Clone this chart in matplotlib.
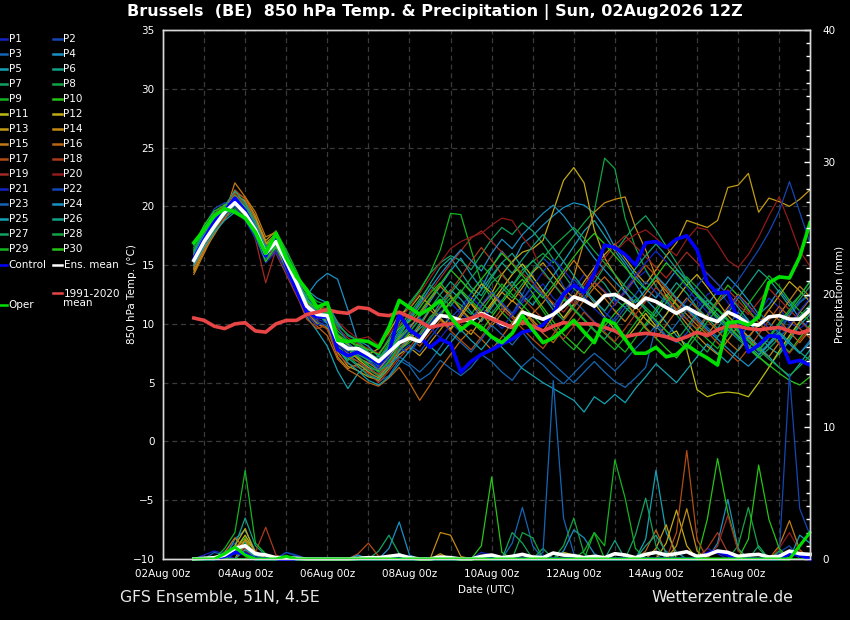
import numpy as np
import pandas as pd
import matplotlib
matplotlib.use("Agg")
import matplotlib.pyplot as plt
import matplotlib.dates as mdates
from matplotlib.lines import Line2D
from matplotlib.ticker import MultipleLocator
from datetime import datetime

W, H = 850, 620

# 6-hourly steps from 02Aug 18Z to 17Aug 18Z (61 values)
TIMES = pd.date_range("2026-08-02 18:00", periods=61, freq="6h").to_numpy()

# ---- 850 hPa temperature (°C) ----
ENS_MEAN_T = [15.4, 17.0, 18.3, 19.5, 20.3, 19.4, 18.0, 16.0, 17.0, 15.3,
              13.5, 11.5, 10.8, 10.7, 8.5, 7.9, 7.9, 7.4, 6.8, 7.6,
              8.4, 8.8, 8.5, 9.7, 10.7, 10.6, 10.3, 10.3, 10.9, 10.5,
              10.0, 9.7, 11.0, 10.7, 10.4, 10.8, 11.5, 12.3, 12.0, 11.5,
              12.4, 12.5, 12.0, 11.4, 12.2, 11.9, 11.4, 10.9, 11.4, 10.9,
              10.5, 10.2, 11.0, 10.6, 10.0, 9.9, 10.6, 10.7, 10.4, 10.4, 11.2]
CONTROL_T = [15.5, 17.2, 18.7, 19.6, 20.7, 19.6, 18.0, 15.8, 17.4, 15.0,
             12.9, 11.0, 10.6, 10.6, 7.8, 7.3, 7.6, 7.2, 6.6, 7.6,
             10.8, 9.5, 8.9, 8.0, 8.7, 8.3, 5.9, 6.8, 7.4, 7.8,
             8.3, 8.7, 9.3, 9.5, 9.9, 10.9, 12.5, 13.3, 12.7, 14.3,
             16.7, 16.5, 15.9, 15.0, 16.9, 17.0, 16.5, 17.2, 17.5, 16.3,
             13.5, 12.6, 12.7, 10.3, 7.6, 8.2, 9.0, 8.9, 6.7, 6.9, 6.5]
OPER_T = [16.9, 18.0, 19.2, 19.8, 19.5, 19.0, 17.8, 16.0, 17.7, 15.6,
          14.0, 12.9, 11.4, 11.8, 8.6, 8.5, 8.6, 8.5, 8.0, 9.7,
          12.0, 11.4, 10.8, 11.3, 12.0, 10.6, 9.5, 10.2, 9.7, 8.9,
          8.4, 9.2, 10.7, 9.5, 8.4, 8.8, 9.5, 10.3, 9.3, 8.4,
          10.4, 10.0, 8.7, 7.5, 7.5, 8.0, 7.2, 7.4, 8.2, 7.6,
          7.1, 6.5, 10.1, 10.2, 9.9, 10.6, 13.5, 14.0, 13.9, 15.7, 18.6]
CLIM_T = [10.5, 10.3, 9.8, 9.6, 10.0, 10.1, 9.4, 9.3, 10.0, 10.3,
          10.3, 10.8, 11.0, 11.2, 11.0, 10.9, 11.4, 11.3, 10.8, 10.7,
          11.0, 10.6, 10.2, 9.7, 9.9, 10.0, 10.2, 10.5, 10.8, 10.4,
          10.1, 9.7, 10.2, 9.8, 9.4, 9.8, 10.1, 10.0, 10.0, 10.0,
          9.7, 9.4, 8.9, 9.1, 9.2, 9.1, 8.9, 8.6, 8.9, 9.3,
          9.0, 9.5, 9.8, 9.8, 9.6, 9.5, 9.6, 9.7, 9.4, 9.2, 9.5]

P01 = [15.2, 17.4, 19.0, 19.8, 20.4, 19.6, 18.5, 16.3, 17.2, 15.6, 13.0, 11.2, 10.4, 10.1,
       8.0, 7.0, 7.4, 6.9, 6.2, 7.0, 8.6,
       9.3, 8.8, 10.1, 11.0, 11.8, 10.9, 10.2, 11.6, 12.4, 11.8, 10.6, 11.8,
       12.6, 13.4, 12.2, 11.5, 12.9, 14.2, 13.6, 12.8, 11.9, 12.6, 13.8, 14.5, 13.2, 12.1,
       11.0, 10.4, 11.3, 12.5, 13.0, 11.8, 10.6, 9.8, 10.9, 12.2, 11.4, 10.1, 9.6, 10.3]
P02 = [15.8, 18.0, 19.6, 19.9, 20.1, 19.2, 17.8, 16.0, 17.4, 15.1, 13.4, 11.8, 11.0, 10.5,
       9.2, 8.1, 7.6, 7.0, 5.8, 6.4, 7.5,
       8.2, 7.6, 8.8, 9.9, 10.5, 11.4, 12.6, 13.8, 12.9, 11.4, 10.8, 12.5,
       14.3, 15.6, 14.8, 13.2, 12.0, 11.1, 10.2, 9.4, 10.5, 11.8, 12.4, 11.2, 10.1, 9.0,
       8.4, 9.2, 10.8, 12.1, 11.3, 10.2, 9.5, 8.8, 7.6, 8.3, 9.6, 10.8, 11.9, 12.6]
P03 = [14.9, 16.6, 18.0, 19.3, 20.0, 19.5, 18.3, 16.4, 16.8, 15.4, 13.9, 12.1, 11.3, 10.9,
       8.8, 7.4, 6.8, 6.0, 5.1, 5.6, 6.9,
       6.4, 5.2, 5.8, 6.9, 6.2, 5.6, 6.3, 7.4, 6.8, 5.9, 5.2, 6.4,
       7.2, 6.5, 5.6, 4.9, 5.8, 6.7, 7.5, 6.8, 6.0, 6.9, 7.9, 8.8, 9.9, 10.8,
       12.2, 11.4, 10.6, 9.7, 8.9, 9.8, 11.0, 10.2, 9.1, 8.4, 9.3, 10.7, 11.8, 12.5]
P04 = [15.6, 17.2, 18.6, 19.6, 20.8, 19.9, 18.2, 15.9, 16.6, 14.8, 13.1, 12.4, 13.6, 14.3,
       13.8, 11.2, 8.4, 7.6, 6.9, 7.8, 8.9,
       9.8, 10.6, 11.9, 13.2, 14.5, 15.6, 14.2, 13.0, 14.8, 16.2, 15.1, 16.8,
       17.5, 18.4, 19.2, 19.9, 20.3, 20.1, 19.4, 18.2, 16.5, 15.3, 14.1, 13.0, 12.2, 13.4,
       14.6, 13.8, 12.5, 11.6, 12.8, 14.0, 13.1, 12.0, 10.8, 11.6, 12.9, 11.8, 10.4, 9.5]
P05 = [15.0, 16.8, 18.1, 19.0, 19.7, 19.0, 17.6, 15.5, 16.5, 14.9, 12.8, 10.6, 9.4, 8.1,
       6.0, 4.5, 5.8, 6.4, 5.5, 6.8, 8.0,
       8.7, 9.6, 10.4, 11.8, 12.9, 12.1, 11.0, 10.2, 11.4, 12.7, 13.6, 12.4,
       11.6, 12.8, 14.1, 15.3, 16.6, 17.9, 18.8, 17.5, 16.2, 15.0, 13.4, 12.1, 11.2, 10.1,
       9.0, 8.2, 9.4, 10.6, 11.8, 12.6, 11.4, 10.3, 9.1, 8.0, 7.4, 8.6, 9.9, 10.8]
P06 = [15.3, 17.0, 18.5, 19.8, 20.9, 20.2, 18.6, 16.6, 17.8, 15.9, 13.6, 11.6, 10.9, 10.9,
       8.4, 7.7, 8.2, 7.5, 7.0, 8.1, 9.4,
       10.6, 11.9, 13.4, 14.8, 15.6, 14.4, 13.1, 12.4, 13.9, 15.2, 16.0, 14.8,
       13.6, 12.4, 11.2, 10.3, 11.6, 12.9, 14.2, 13.4, 12.1, 11.4, 10.6, 9.8, 11.0, 12.3,
       13.5, 12.6, 11.4, 10.5, 9.6, 10.9, 12.2, 13.4, 14.6, 13.8, 12.7, 11.5, 12.4, 13.6]
P07 = [16.2, 17.8, 19.1, 20.2, 20.6, 19.3, 17.5, 15.6, 16.9, 15.4, 13.8, 12.0, 11.2, 10.3,
       8.9, 8.2, 7.1, 6.6, 7.3, 8.8, 10.4,
       11.8, 12.9, 14.3, 15.2, 15.8, 15.4, 14.6, 15.9, 17.2, 18.2, 17.6, 18.6,
       17.9, 16.8, 15.5, 14.2, 13.0, 12.2, 13.5, 14.9, 16.1, 17.3, 18.4, 19.2, 18.0, 16.6,
       15.2, 13.8, 12.5, 11.4, 10.4, 9.5, 8.7, 7.9, 7.1, 7.9, 8.8, 9.8, 10.7, 11.6]
P08 = [15.7, 17.3, 18.8, 19.7, 20.5, 19.7, 18.1, 16.1, 17.1, 15.2, 13.3, 11.4, 10.6, 10.4,
       8.1, 7.3, 6.5, 6.1, 5.6, 6.9, 7.8,
       8.4, 9.2, 10.6, 11.4, 12.2, 11.6, 10.8, 12.1, 13.5, 14.3, 13.2, 14.6,
       15.3, 16.0, 15.2, 16.4, 17.5, 18.6, 19.6, 24.1, 23.2, 19.0, 16.5, 14.6, 13.2, 12.0,
       10.8, 9.6, 8.5, 7.6, 8.9, 10.2, 9.3, 8.1, 7.2, 6.4, 7.5, 8.8, 10.1, 11.5]
P09 = [16.0, 17.6, 18.9, 19.4, 19.8, 19.0, 17.7, 15.8, 16.7, 15.0, 13.7, 12.3, 11.6, 11.2,
       9.4, 8.6, 8.0, 7.2, 6.7, 8.2, 10.1,
       11.6, 12.8, 14.3, 16.3, 19.4, 19.3, 16.3, 13.5, 12.2, 11.0, 10.1, 11.3,
       12.4, 11.1, 9.8, 8.6, 7.8, 8.9, 10.1, 9.2, 8.4, 7.6, 8.8, 10.0, 11.3, 12.5,
       11.6, 10.4, 9.5, 8.7, 7.9, 9.1, 10.4, 11.7, 12.9, 14.1, 13.2, 12.0, 11.1, 10.2]
P10 = [16.5, 18.1, 19.4, 20.0, 20.2, 19.1, 17.4, 15.7, 16.4, 14.6, 12.9, 11.3, 10.1, 9.7,
       7.8, 6.9, 7.5, 7.1, 6.4, 7.6, 9.0,
       10.3, 11.4, 12.6, 13.5, 12.4, 11.3, 10.2, 9.4, 10.6, 11.8, 12.9, 13.8,
       12.6, 11.4, 10.2, 9.1, 8.3, 7.5, 8.6, 9.8, 10.9, 11.8, 10.7, 9.6, 8.8, 7.9,
       7.1, 8.2, 9.5, 10.8, 12.0, 13.3, 12.4, 11.2, 10.1, 9.2, 8.4, 7.6, 8.8, 9.9]
P11 = [14.6, 16.4, 17.9, 19.2, 20.7, 20.0, 18.4, 16.5, 17.5, 15.5, 13.4, 11.3, 10.5, 10.6,
       8.6, 7.8, 7.0, 6.3, 6.0, 7.2, 8.3,
       9.1, 8.5, 9.6, 10.8, 11.9, 12.8, 11.7, 10.6, 11.8, 13.0, 14.2, 15.1,
       14.0, 12.8, 11.6, 10.5, 11.7, 12.9, 11.8, 10.6, 9.5, 8.6, 9.7, 10.9, 9.8, 8.9,
       9.4, 7.8, 4.4, 3.8, 4.1, 4.2, 4.1, 3.8, 5.0, 6.3, 7.7, 9.0, 10.2, 11.0]
P12 = [15.1, 16.9, 18.4, 19.6, 21.0, 20.4, 18.9, 16.8, 17.3, 15.7, 14.0, 12.6, 11.5, 11.0,
       9.0, 8.3, 7.7, 7.4, 7.9, 9.3, 10.8,
       11.3, 12.4, 11.6, 10.5, 9.6, 10.8, 12.1, 13.4, 12.6, 14.2, 15.3, 16.1,
       16.4, 17.1, 19.6, 22.2, 23.3, 22.0, 18.0, 15.6, 14.2, 12.8, 11.5, 10.4, 9.6, 10.8,
       12.1, 13.3, 14.2, 13.1, 11.9, 10.7, 9.8, 8.9, 9.9, 11.2, 12.4, 13.6, 12.8, 11.9]
P13 = [14.4, 16.2, 17.6, 19.0, 20.9, 20.5, 19.0, 17.1, 17.9, 16.0, 13.8, 11.7, 10.8, 10.2,
       7.6, 6.4, 6.0, 5.5, 5.2, 6.2, 7.4,
       8.0, 7.3, 8.4, 9.5, 10.6, 9.8, 9.1, 10.4, 11.6, 12.7, 11.9, 13.1,
       14.4, 15.2, 14.1, 13.0, 12.2, 13.6, 14.8, 15.9, 16.8, 15.6, 14.4, 13.4, 14.6, 15.8,
       16.9, 18.8, 18.5, 18.2, 18.8, 21.6, 21.8, 22.8, 19.5, 20.7, 20.4, 20.0, 20.6, 21.4]
P14 = [14.8, 16.5, 18.2, 19.4, 21.2, 20.7, 19.2, 16.9, 17.6, 15.3, 13.2, 11.0, 10.0, 9.6,
       7.2, 6.2, 6.6, 5.9, 5.4, 6.5, 7.7,
       8.6, 9.8, 11.2, 10.4, 9.5, 10.6, 11.8, 10.9, 9.8, 10.9, 12.0, 11.2,
       10.3, 9.4, 10.6, 12.0, 14.0, 17.0, 19.5, 20.3, 20.6, 20.8, 18.2, 16.3, 14.0, 12.4,
       11.1, 10.0, 9.0, 8.1, 7.4, 8.6, 9.8, 8.9, 7.9, 7.2, 8.4, 9.7, 11.0, 12.1]
P15 = [14.2, 16.0, 17.8, 19.3, 22.0, 20.8, 19.5, 17.4, 17.8, 15.8, 13.6, 11.9, 10.9, 10.5,
       8.3, 7.5, 7.1, 6.7, 6.1, 7.4, 8.8,
       9.6, 10.8, 12.1, 13.2, 12.3, 11.2, 10.4, 11.5, 12.6, 11.6, 10.7, 9.9,
       10.9, 11.8, 13.0, 14.2, 15.4, 14.3, 13.1, 12.2, 11.1, 10.2, 11.4, 12.6, 13.7, 12.8,
       11.7, 10.8, 9.9, 9.1, 10.2, 11.4, 12.5, 11.6, 10.5, 9.6, 10.8, 12.0, 13.2, 12.3]
P16 = [14.7, 16.3, 17.7, 18.9, 20.2, 19.8, 18.7, 16.7, 17.0, 14.9, 12.7, 10.8, 9.8, 9.0,
       7.0, 6.1, 5.6, 5.0, 4.7, 5.4, 6.3,
       5.0, 3.5, 4.8, 6.2, 7.4, 8.6, 9.5, 8.7, 7.8, 8.9, 10.1, 11.2,
       10.1, 9.2, 8.4, 9.6, 10.8, 12.0, 13.1, 14.0, 13.0, 11.9, 10.8, 9.7, 8.8, 9.9,
       11.1, 12.2, 11.3, 10.3, 9.4, 8.5, 7.7, 8.8, 10.0, 11.2, 10.3, 9.3, 8.4, 9.5]
P17 = [15.4, 17.1, 18.7, 19.9, 21.4, 20.6, 18.8, 15.4, 16.2, 14.5, 12.5, 10.4, 9.6, 9.9,
       7.9, 7.2, 6.8, 6.2, 5.7, 6.6, 7.9,
       8.9, 8.1, 9.2, 10.3, 9.4, 8.6, 7.8, 8.9, 10.1, 11.3, 10.5, 9.6,
       8.7, 7.9, 9.1, 10.3, 11.4, 12.6, 13.5, 12.7, 11.6, 12.8, 13.9, 15.0, 14.1, 13.0,
       12.1, 11.2, 10.2, 9.3, 8.4, 7.6, 6.8, 7.9, 9.1, 10.3, 11.5, 10.6, 9.6, 8.8]
P18 = [15.9, 17.7, 19.3, 20.1, 21.1, 20.1, 18.3, 16.2, 16.0, 14.2, 12.4, 10.9, 10.3, 9.5,
       7.4, 6.6, 6.3, 5.8, 5.0, 6.0, 7.1,
       8.0, 9.1, 10.3, 11.5, 12.8, 14.0, 15.3, 16.5, 15.4, 14.2, 13.1, 12.2,
       11.3, 10.4, 9.5, 8.7, 9.8, 11.0, 10.1, 9.3, 8.5, 9.6, 10.8, 11.9, 13.1, 12.2,
       11.3, 10.4, 9.6, 10.7, 11.8, 12.9, 12.0, 11.0, 10.1, 9.2, 8.3, 7.5, 8.6, 9.7]
P19 = [15.1, 16.7, 17.9, 19.1, 20.5, 19.3, 17.2, 13.5, 16.3, 14.6, 13.0, 11.6, 11.1, 11.4,
       9.6, 8.8, 8.3, 7.9, 7.5, 8.6, 9.9,
       10.8, 11.6, 12.7, 13.9, 15.1, 16.2, 17.3, 17.9, 17.0, 16.1, 15.2, 14.3,
       13.5, 12.6, 11.8, 11.0, 12.1, 13.3, 14.5, 15.6, 16.7, 17.5, 16.6, 15.7, 14.8, 13.9,
       15.0, 16.1, 15.2, 14.3, 13.4, 12.5, 11.6, 10.8, 11.9, 13.0, 12.1, 11.2, 10.3, 9.4]
P20 = [15.5, 17.3, 18.9, 19.7, 20.0, 19.0, 17.6, 15.8, 17.1, 15.5, 13.7, 11.8, 11.4, 11.6,
       10.2, 9.4, 8.7, 8.9, 8.2, 9.1, 10.3,
       11.4, 12.6, 13.9, 15.2, 16.4, 17.0, 17.4, 17.7, 18.4, 19.0, 18.8, 17.4,
       16.3, 14.3, 13.4, 12.5, 11.7, 12.8, 13.9, 15.0, 16.1, 17.0, 17.6, 18.0, 17.3, 16.5,
       15.8, 17.2, 18.2, 18.0, 16.8, 15.4, 14.8, 15.9, 17.4, 19.2, 20.8, 18.6, 16.2, 14.9]
P21 = [15.7, 17.9, 19.3, 19.5, 19.6, 18.8, 17.3, 15.2, 16.1, 14.4, 12.6, 10.7, 9.9, 10.2,
       8.2, 7.6, 7.9, 6.8, 6.3, 7.3, 8.5,
       9.4, 10.5, 9.7, 8.8, 9.9, 11.1, 12.3, 11.4, 10.5, 9.6, 10.8, 12.0,
       13.2, 14.4, 15.5, 14.6, 13.5, 12.4, 11.3, 10.5, 11.7, 12.9, 14.1, 15.2, 16.2, 15.3,
       14.2, 13.1, 12.0, 11.0, 10.1, 11.2, 12.4, 11.5, 10.5, 9.6, 8.8, 9.9, 11.1, 12.2]
P22 = [16.4, 18.3, 19.8, 20.3, 20.0, 18.9, 17.4, 15.5, 16.3, 15.0, 12.8, 11.1, 10.2, 9.8,
       8.6, 8.0, 7.3, 6.4, 5.9, 7.1, 8.0,
       7.5, 8.7, 9.9, 11.0, 10.1, 9.3, 10.4, 11.6, 12.7, 11.8, 10.9, 12.1,
       13.3, 12.4, 11.5, 12.7, 13.8, 12.9, 11.9, 11.0, 10.2, 11.4, 12.5, 13.6, 12.7, 11.8,
       10.8, 12.0, 13.2, 14.3, 13.4, 12.5, 13.7, 15.0, 16.3, 17.8, 19.6, 22.1, 19.5, 16.9]
P23 = [15.2, 16.9, 18.2, 19.2, 20.1, 19.6, 18.6, 16.6, 17.0, 15.1, 13.0, 11.1, 10.6, 11.2,
       9.8, 8.4, 7.6, 6.9, 6.1, 6.5, 7.2,
       6.6, 5.9, 6.8, 8.0, 9.2, 8.4, 7.6, 8.7, 9.9, 9.1, 8.2, 9.3,
       8.2, 7.4, 6.6, 5.8, 5.0, 5.9, 6.8, 5.9, 5.1, 4.6, 5.4, 6.3, 9.8, 8.9,
       10.0, 11.2, 12.3, 11.4, 10.5, 9.6, 8.7, 9.8, 11.0, 10.1, 9.2, 8.3, 7.5, 8.6]
P24 = [15.9, 17.5, 18.8, 19.8, 20.6, 19.6, 17.9, 15.9, 16.8, 15.6, 14.2, 12.9, 12.2, 11.8,
       10.1, 9.0, 8.6, 8.1, 7.2, 7.9, 9.2,
       10.4, 11.7, 13.0, 14.2, 15.3, 16.3, 15.4, 14.5, 16.0, 17.2, 16.4, 17.6,
       18.5, 19.4, 20.1, 19.2, 18.0, 16.8, 15.6, 14.6, 13.6, 12.7, 11.8, 12.9, 14.1, 13.2,
       12.2, 11.3, 10.4, 9.5, 8.7, 7.9, 7.1, 6.4, 7.3, 8.2, 9.1, 8.3, 7.5, 8.4]
P25 = [15.0, 16.5, 17.8, 18.8, 19.5, 19.1, 18.0, 16.3, 17.3, 15.7, 13.9, 12.2, 11.0, 10.0,
       7.9, 6.7, 6.0, 5.2, 4.8, 5.5, 6.6,
       7.7, 8.9, 8.1, 7.3, 8.4, 9.5, 8.6, 7.8, 8.9, 8.0, 7.1, 6.2,
       5.6, 5.0, 4.5, 4.0, 3.5, 2.5, 3.8, 3.2, 4.0, 3.3, 4.5, 5.5, 6.6, 5.8,
       5.0, 6.1, 7.2, 8.3, 7.5, 6.7, 7.8, 9.0, 8.1, 7.2, 6.3, 5.5, 6.6, 7.8]
P26 = [16.1, 17.8, 19.0, 20.0, 21.3, 20.3, 18.7, 16.4, 17.7, 16.1, 14.0, 12.0, 10.8, 10.1,
       8.0, 7.1, 6.4, 5.6, 5.3, 6.3, 7.7,
       8.8, 10.0, 11.3, 12.5, 13.6, 12.7, 11.7, 12.9, 14.1, 15.2, 14.3, 15.5,
       16.6, 17.6, 16.5, 15.3, 14.1, 13.0, 12.0, 11.1, 12.3, 13.5, 14.7, 15.8, 16.8, 15.8,
       14.7, 13.6, 12.6, 11.7, 10.8, 9.9, 9.0, 8.2, 7.4, 8.3, 9.3, 8.5, 7.6, 6.9]
P27 = [15.6, 17.2, 18.5, 19.5, 20.9, 20.0, 18.4, 15.7, 17.3, 15.4, 13.3, 11.5, 10.7, 10.4,
       8.7, 8.0, 7.4, 6.9, 6.6, 7.7, 8.7,
       9.6, 9.0, 10.2, 11.4, 12.6, 13.7, 12.8, 11.8, 10.9, 12.0, 13.2, 14.3,
       15.4, 14.5, 13.4, 12.3, 11.3, 10.4, 9.5, 8.7, 9.8, 11.0, 12.1, 11.2, 10.3, 9.4,
       8.6, 9.7, 10.9, 12.0, 11.2, 10.3, 9.4, 8.5, 7.7, 8.8, 9.9, 11.0, 12.1, 13.2]
P28 = [15.3, 16.8, 18.0, 19.3, 20.4, 19.8, 18.2, 16.2, 17.5, 15.9, 14.4, 12.7, 11.9, 11.6,
       9.9, 9.1, 8.6, 7.6, 7.0, 8.4, 9.7,
       10.9, 12.1, 13.3, 12.4, 11.5, 12.7, 13.9, 15.0, 14.1, 13.1, 12.2, 13.4,
       14.5, 15.6, 16.6, 17.4, 18.2, 17.3, 16.2, 15.2, 14.2, 13.2, 12.3, 11.4, 10.6, 11.8,
       12.9, 14.0, 13.1, 12.1, 11.2, 10.3, 9.5, 8.6, 7.8, 7.0, 6.3, 5.6, 6.4, 7.3]
P29 = [16.3, 18.0, 19.2, 19.9, 20.2, 19.4, 18.1, 16.3, 17.9, 16.3, 14.5, 12.5, 11.2, 10.9,
       8.9, 7.9, 7.2, 6.5, 5.9, 6.8, 8.2,
       9.3, 10.4, 9.6, 10.7, 11.8, 12.9, 12.0, 11.1, 12.3, 13.4, 12.5, 11.6,
       10.7, 9.8, 10.9, 12.1, 11.2, 10.3, 9.4, 8.6, 7.8, 8.9, 10.1, 11.2, 10.3, 9.4,
       8.6, 7.8, 9.0, 10.2, 11.3, 10.4, 9.5, 8.6, 7.8, 8.9, 10.1, 11.2, 12.4, 13.6]
P30 = [16.7, 18.4, 19.6, 20.1, 20.3, 19.2, 17.6, 15.3, 16.6, 14.7, 13.1, 11.9, 11.3, 11.0,
       9.1, 8.5, 8.2, 7.8, 7.4, 8.6, 9.6,
       10.2, 11.0, 12.2, 13.4, 14.6, 13.7, 12.7, 13.8, 14.9, 16.0, 15.1, 14.1,
       13.1, 12.2, 13.3, 14.5, 15.7, 16.8, 17.7, 16.8, 15.8, 14.8, 13.8, 12.9, 14.0, 15.2,
       14.3, 13.3, 12.4, 11.5, 10.6, 9.8, 8.9, 8.0, 7.2, 6.5, 5.8, 5.2, 4.8, 5.5]

# ---- precipitation (mm per 6 h) ----
ENS_MEAN_R = [0, 0.05, 0.1, 0.3, 0.8, 1.0, 0.4, 0.3, 0.1, 0.1,
              0.05, 0, 0, 0, 0, 0, 0.05, 0.1, 0.1, 0.2,
              0.3, 0.1, 0, 0, 0.15, 0.1, 0, 0, 0.2, 0.3,
              0.1, 0.2, 0.35, 0.15, 0.1, 0.45, 0.3, 0.25, 0.1, 0.2,
              0.1, 0.4, 0.3, 0.1, 0.35, 0.5, 0.3, 0.4, 0.55, 0.2,
              0.3, 0.6, 0.5, 0.2, 0.3, 0.35, 0.15, 0.2, 0.6, 0.4, 0.35]
CONTROL_R = [0] * 3 + [0.2, 0.5, 0.4] + [0] * 22 + [0.15] + [0] * 21 + [0.4, 0.6, 0.3] + [0] * 5 + [0.4, 0.3] + [0]
OPER_R = [0] * 3 + [0.4, 0.9, 0.3] + [0] * 3 + [0.2] + [0] * 49 + [1.0, 2.0]

R01 = [0] * 4 + [0.4, 0.6, 0.2] + [0] * 27 + [0.3] + [0] * 15 + [0.8, 0.4] + [0] * 9
R02 = [0] * 3 + [0.6, 1.2, 0.5] + [0] * 3 + [0.5, 0.2] + [0] * 46 + [0.5, 1.0] + [0] * 2
R03 = [0] * 2 + [0.5, 0.3] + [0] * 27 + [1.2, 3.9, 1.0] + [0] * 12 + [0.6] + [0] * 14
R04 = [0] * 4 + [1.5, 2.2, 0.6] + [0] * 12 + [0.8, 2.8, 0.3] + [0] * 29 + [1.2, 4.5, 0.8] + [0] * 7
R05 = [0] * 4 + [0.6, 1.3] + [0] * 38 + [1.5, 6.7, 2.0, 0.5] + [0] * 13
R06 = [0] * 4 + [1.0, 3.1, 1.0, 0.3] + [0] * 33 + [1.4] + [0] * 19
R07 = [0] * 18 + [0.6, 1.8, 0.4] + [0] * 13 + [0.8] + [0] * 20 + [1.0] + [0] * 5
R08 = [0] * 5 + [1.2, 0.4] + [0] * 46 + [1.0, 3.9, 0.8] + [0] * 5
R09 = [0] * 4 + [0.8, 1.6] + [0] * 32 + [0.6, 2.0, 1.0, 7.5, 4.6, 0.8] + [0] * 17
R10 = [0] * 28 + [1.0, 6.2, 0.5] + [0] * 19 + [3.0, 7.6, 3.5, 0.7] + [0] * 7
R11 = [0] * 4 + [0.7, 1.8, 0.5] + [0] * 29 + [0.5, 0.3] + [0] * 23
R12 = [0] * 4 + [1.0, 2.3, 0.4] + [0] * 39 + [1.2, 3.7, 1.0] + [0] * 12
R13 = [0] * 5 + [1.5, 0.6] + [0] * 17 + [0.4] + [0] * 20 + [0.8, 2.6] + [0] * 14
R14 = [0] * 4 + [0.9, 1.4] + [0] * 18 + [2.0, 1.8, 0.2] + [0] * 20 + [1.0, 3.8, 0.6] + [0] * 11
R15 = [0] * 3 + [0.5, 1.6, 0.8] + [0] * 51 + [1.0, 2.9, 0.7] + [0]
R16 = [0] * 5 + [1.0, 0.3] + [0] * 37 + [0.6, 2.2, 0.4] + [0] * 14
R17 = [0] * 16 + [0.4, 1.2, 0.2] + [0] * 28 + [2.0, 8.2, 1.5] + [0] * 11
R18 = [0] * 6 + [0.5, 2.4, 0.3] + [0] * 41 + [0.8, 2.0, 0.5] + [0] * 8
R19 = [0] * 5 + [0.8] + [0] * 45 + [1.0, 3.3, 0.6] + [0] * 3 + [0.6] + [0] * 3
R20 = [0] * 4 + [0.5, 0.6] + [0] * 51 + [0.8, 2.0, 0.6] + [0]
R21 = [0] + [0.3, 0.6, 0.4] + [0] * 24 + [0.5, 0.3] + [0] * 31
R22 = [0] * 9 + [0.5, 0.3] + [0] * 46 + [0.3, 14.0, 3.8, 1.8]
R23 = [0] * 34 + [0.5, 13.5, 3.1, 0.4] + [0] * 23
R24 = [0] * 4 + [0.6, 1.0] + [0] * 10 + [0.3] + [0] * 19 + [0.6, 2.2, 1.6, 0.4] + [0] * 21
R25 = [0] * 5 + [0.7, 0.3] + [0] * 13 + [0.4] + [0] * 38 + [1.8, 1.2]
R26 = [0] * 4 + [0.5, 1.1] + [0] * 38 + [1.0, 1.8, 0.5] + [0] * 14
R27 = [0] * 31 + [2.0, 1.2] + [0] * 10 + [1.8, 4.6, 1.0] + [0] * 15
R28 = [0] * 32 + [2.0, 1.6] + [0] * 2 + [1.0, 3.1, 0.4] + [0] * 18 + [0.6] + [0] * 3
R29 = [0] * 3 + [0.8, 2.0, 6.7, 1.2, 0.4] + [0] * 31 + [2.0] + [0] * 21
R30 = [0] * 54 + [1.5, 7.1, 3.0, 0.8] + [0] * 3

# 20-colour member palette (repeats for P21-P30)
PALETTE = ["#1424c4", "#1446b4", "#1466b4", "#1a90c4", "#14a2b2",
           "#12a286", "#12a262", "#12a444", "#14b420", "#26c414",
           "#bcbc14", "#c2aa14", "#c29a14", "#c48a14", "#c47a14",
           "#ba6414", "#b24c14", "#aa3a1a", "#a22a22", "#921a1a"]

MEMBERS_T = [P01, P02, P03, P04, P05, P06, P07, P08, P09, P10,
             P11, P12, P13, P14, P15, P16, P17, P18, P19, P20,
             P21, P22, P23, P24, P25, P26, P27, P28, P29, P30]
MEMBERS_R = [R01, R02, R03, R04, R05, R06, R07, R08, R09, R10,
             R11, R12, R13, R14, R15, R16, R17, R18, R19, R20,
             R21, R22, R23, R24, R25, R26, R27, R28, R29, R30]

for k, (t, r) in enumerate(zip(MEMBERS_T, MEMBERS_R)):
    assert len(t) == 61, f"P{k+1} temp has {len(t)}"
    assert len(r) == 61, f"P{k+1} precip has {len(r)}"

CONTROL_C = "#0000ff"
OPER_C = "#00e000"
MEAN_C = "#ffffff"
CLIM_C = "#e84646"
GRID_C = "#3a3a3a"


def main():
    fig = plt.figure(figsize=(W / 100, H / 100), dpi=100, facecolor="black")
    ax = fig.add_axes([163 / W, 1 - 559 / H, (810 - 163) / W, (559 - 30) / H])
    ax.set_facecolor("black")
    ax2 = ax.twinx()

    # temperature
    for k, t in enumerate(MEMBERS_T):
        ax.plot(TIMES, t, color=PALETTE[k % 20], lw=0.9)
    ax.plot(TIMES, CONTROL_T, color=CONTROL_C, lw=2.6)
    ax.plot(TIMES, ENS_MEAN_T, color=MEAN_C, lw=2.6)
    ax.plot(TIMES, CLIM_T, color=CLIM_C, lw=2.6)
    ax.plot(TIMES, OPER_T, color=OPER_C, lw=2.6)

    # precipitation
    for k, r in enumerate(MEMBERS_R):
        ax2.plot(TIMES, r, color=PALETTE[k % 20], lw=0.9, clip_on=False)
    ax2.plot(TIMES, CONTROL_R, color=CONTROL_C, lw=2.6, clip_on=False)
    ax2.plot(TIMES, ENS_MEAN_R, color=MEAN_C, lw=2.6, clip_on=False)
    ax2.plot(TIMES, OPER_R, color=OPER_C, lw=2.2, clip_on=False)

    ax.set_xlim(datetime(2026, 8, 2, 0), datetime(2026, 8, 17, 18))
    ax.set_ylim(-10, 35)
    ax2.set_ylim(0, 40)

    ax.set_xticks([datetime(2026, 8, d) for d in range(2, 17, 2)])
    ax.set_xticks([datetime(2026, 8, d) for d in range(3, 18, 2)], minor=True)
    ax.xaxis.set_major_formatter(mdates.DateFormatter("%d%b %Hz"))
    ax.set_yticks(range(-10, 36, 5))
    ax.grid(True, which="both", axis="x", color=GRID_C, lw=0.9, ls=(0, (4, 3)))
    ax.grid(True, which="major", axis="y", color=GRID_C, lw=0.9, ls=(0, (4, 3)))
    ax.set_axisbelow(True)

    ax.tick_params(axis="x", which="both", length=0, pad=7, colors="white", labelsize=7.5)
    ax.tick_params(axis="y", length=0, pad=6, colors="white", labelsize=7.5)
    ax2.set_yticks([0, 10, 20, 30, 40])
    ax2.yaxis.set_minor_locator(MultipleLocator(1))
    ax2.tick_params(axis="y", which="major", direction="in", length=4, width=1,
                    colors="white", labelsize=7.5, pad=9)
    ax2.tick_params(axis="y", which="minor", direction="in", length=3, width=1, colors="white")

    for a in (ax, ax2):
        for sp in a.spines.values():
            sp.set_color("#d8d8d8")
            sp.set_linewidth(1)

    ax.set_ylabel("850 hPa Temp. (°C)", color="white", fontsize=7.5)
    ax.yaxis.set_label_coords((137 - 163) / 647, 0.5)
    ax2.set_ylabel("Precipitation (mm)", color="white", fontsize=7.5)
    ax2.yaxis.set_label_coords((835 - 163) / 647, 0.5)
    ax.set_xlabel("Date (UTC)", color="white", fontsize=7.5)
    ax.xaxis.set_label_coords(0.4992, (559 - 584) / 529)

    fig.text(435 / W, 1 - 12 / H,
             "Brussels  (BE)  850 hPa Temp. & Precipitation | Sun, 02Aug2026 12Z",
             color="white", fontsize=11.5, fontweight="bold",
             ha="center", va="center")
    fig.text(120 / W, 1 - 598 / H, "GFS Ensemble, 51N, 4.5E", color="#e6e6e6",
             fontsize=11.3, va="center")
    fig.text(793 / W, 1 - 598 / H, "Wetterzentrale.de", color="#e6e6e6",
             fontsize=11.3, va="center", ha="right")

    # legend, two columns left of the plot
    def entry(x0, x1, y, color, label):
        fig.add_artist(Line2D([x0 / W, x1 / W], [1 - y / H, 1 - y / H], color=color,
                              lw=1.8, transform=fig.transFigure))
        fig.text((x1 + 1.5) / W, 1 - y / H, label, color="white", fontsize=7.5,
                 va="center")

    for k in range(30):
        col, row = k % 2, k // 2
        y = 39.3 + 14.95 * row
        if col == 0:
            entry(0, 7, y, PALETTE[k % 20], f"P{k + 1}")
        else:
            entry(53, 62, y, PALETTE[k % 20], f"P{k + 1}")
    entry(0, 7, 265, CONTROL_C, "Control")
    entry(53, 62, 265, MEAN_C, "Ens. mean")
    fig.add_artist(Line2D([53 / W, 62 / W], [1 - 293 / H] * 2, color=CLIM_C,
                          lw=1.8, transform=fig.transFigure))
    fig.text(63.5 / W, 1 - 298.5 / H, "1991-2020\nmean", color="white", fontsize=7.5,
             va="center", linespacing=0.95)
    entry(0, 7, 305, OPER_C, "Oper")

    fig.savefig("out.png", dpi=100, facecolor="black")


if __name__ == "__main__":
    main()
